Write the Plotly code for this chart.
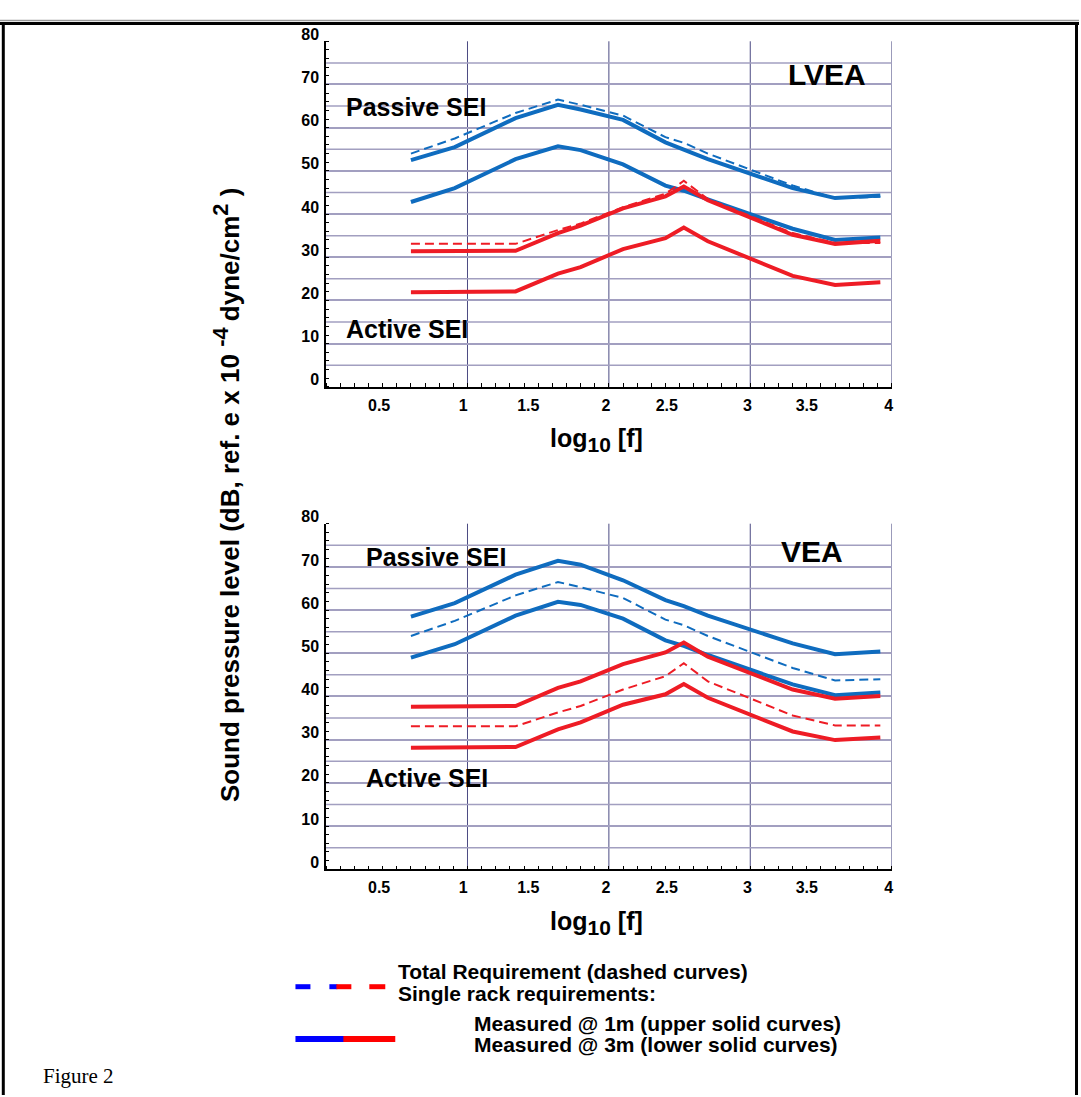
import plotly.graph_objects as go

W, H = 1081, 1097

# ---------------- data ----------------
log_f = [0.60, 0.91, 1.34, 1.64, 1.80, 2.10, 2.40, 2.53, 2.70, 3.30, 3.60, 3.92]

total_passive = [54.0, 57.5, 63.4, 66.5, 65.3, 62.8, 57.8, 56.5, 54.0, 46.6, 43.7, 44.0]
total_active = [33.1, 33.1, 33.1, 36.3, 37.8, 41.6, 44.7, 47.7, 43.5, 35.6, 33.3, 33.3]

lvea_passive_1m = [52.5, 55.5, 62.2, 65.3, 64.2, 61.8, 56.6, 54.9, 52.7, 46.0, 43.7, 44.3]
lvea_passive_3m = [42.8, 46.0, 52.7, 55.7, 54.8, 51.5, 46.6, 45.4, 43.4, 36.6, 34.0, 34.6]
lvea_active_1m = [31.4, 31.4, 31.5, 35.6, 37.3, 41.3, 44.1, 46.4, 43.2, 35.2, 33.1, 33.8]
lvea_active_3m = [21.9, 21.9, 22.1, 26.2, 27.7, 31.9, 34.4, 36.9, 33.7, 25.7, 23.6, 24.2]

vea_passive_1m = [58.5, 61.6, 68.2, 71.4, 70.5, 66.9, 62.3, 60.9, 58.7, 52.3, 49.8, 50.4]
vea_passive_3m = [49.0, 52.1, 58.7, 61.9, 61.2, 58.0, 53.0, 51.7, 49.6, 42.8, 40.3, 40.9]
vea_active_1m = [37.6, 37.6, 37.8, 42.0, 43.5, 47.5, 50.2, 52.5, 49.2, 41.6, 39.5, 40.1]
vea_active_3m = [28.1, 28.1, 28.3, 32.4, 34.0, 38.1, 40.5, 42.9, 39.7, 31.9, 29.9, 30.5]

x_tick_labels = ["0.5", "1", "1.5", "2", "2.5", "3", "3.5", "4"]
x_tick_pos = [0.375, 0.97, 1.43, 1.98, 2.41, 2.98, 3.40, 3.98]
y_tick_vals = list(range(0, 90, 10))
y_half_grid = list(range(5, 80, 10))

# ---------------- style ----------------
BLUE = "#0f6cbf"
RED = "#ee1c25"
FONT = "Liberation Sans, Arial, sans-serif"
HGRID = "#a29fc0"
VGRID = "#4b4a82"


def px(x):
    return x / W


def py(y):
    return 1 - y / H


fig = go.Figure()

panels = [
    ("x", "y", lvea_passive_1m, lvea_passive_3m, lvea_active_1m, lvea_active_3m),
    ("x2", "y2", vea_passive_1m, vea_passive_3m, vea_active_1m, vea_active_3m),
]

for xa, ya, p1, p3, a1, a3 in panels:
    for vals, col in [(p1, BLUE), (p3, BLUE), (a1, RED), (a3, RED)]:
        fig.add_trace(go.Scatter(x=log_f, y=vals, mode="lines", xaxis=xa, yaxis=ya,
                                 line=dict(color=col, width=4), showlegend=False,
                                 hoverinfo="skip"))
    for vals, col in [(total_passive, BLUE), (total_active, RED)]:
        fig.add_trace(go.Scatter(x=log_f, y=vals, mode="lines", xaxis=xa, yaxis=ya,
                                 line=dict(color=col, width=2, dash="9px,5px"),
                                 showlegend=False, hoverinfo="skip"))

x_dom = [px(326.7), px(893.3)]
y_doms = [[py(377.7), py(26.7)], [py(867.7), py(516.7)]]

xaxis_common = dict(
    range=[0, 4], tickmode="array", tickvals=x_tick_pos, ticktext=x_tick_labels,
    ticks="", showgrid=False, zeroline=False, showline=True, linecolor="black",
    linewidth=1.5, tickfont=dict(family=FONT, size=16, color="black", weight="bold"),
    ticklabelstandoff=3,
    minor=dict(dtick=0.1, tick0=0, ticks="inside", ticklen=4, tickcolor="black",
               showgrid=False),
)
yaxis_common = dict(
    range=[0, 80], tickmode="array", tickvals=y_tick_vals,
    ticks="", showgrid=True, gridcolor=HGRID, gridwidth=1.5, zeroline=False,
    showline=True, linecolor="black", linewidth=1.5,
    tickfont=dict(family=FONT, size=16, color="black", weight="bold"),
    ticklabelshift=-7, ticklabelstandoff=2,
    minor=dict(dtick=2, tick0=0, ticks="inside", ticklen=3, tickcolor="black",
               showgrid=False),
)

fig.update_layout(
    xaxis=dict(domain=x_dom, anchor="y", **xaxis_common),
    yaxis=dict(domain=y_doms[0], anchor="x", **yaxis_common),
    xaxis2=dict(domain=x_dom, anchor="y2", **xaxis_common),
    yaxis2=dict(domain=y_doms[1], anchor="x2", **yaxis_common),
)

shapes = []
for xr, yr in [("x", "y"), ("x2", "y2")]:
    for gx in [1, 2, 3, 4]:
        shapes.append(dict(type="line", xref=xr, yref=yr + " domain", x0=gx, x1=gx, y0=0, y1=1,
                           line=dict(color=VGRID, width=1), layer="below"))
    for gy in y_half_grid:
        shapes.append(dict(type="line", xref=xr + " domain", yref=yr, x0=0, x1=1, y0=gy, y1=gy,
                           line=dict(color=HGRID, width=1.5), layer="below"))

# page frame
shapes.append(dict(type="line", xref="paper", yref="paper", x0=0, x1=1, y0=py(5.5), y1=py(5.5),
                   line=dict(color="#9a9a9a", width=1.5)))
shapes.append(dict(type="line", xref="paper", yref="paper", x0=0, x1=1, y0=py(8.7), y1=py(8.7),
                   line=dict(color="black", width=3)))
shapes.append(dict(type="line", xref="paper", yref="paper", x0=px(3.3), x1=px(3.3), y0=0, y1=py(7.5),
                   line=dict(color="black", width=3)))
shapes.append(dict(type="line", xref="paper", yref="paper", x0=px(1078.5), x1=px(1078.5), y0=0, y1=py(7.5),
                   line=dict(color="black", width=3)))

# legend samples
for x0, x1, c in [(296, 311, "#0000ff"), (330, 338, "#0000ff"), (337, 352, "#ff0000"), (370, 386, "#ff0000")]:
    shapes.append(dict(type="line", xref="paper", yref="paper", x0=px(x0), x1=px(x1),
                       y0=py(987), y1=py(987), line=dict(color=c, width=5)))
for x0, x1, c in [(296, 345, "#0000ff"), (344, 396, "#ff0000")]:
    shapes.append(dict(type="line", xref="paper", yref="paper", x0=px(x0), x1=px(x1),
                       y0=py(1040), y1=py(1040), line=dict(color=c, width=6)))

fig.update_layout(shapes=shapes)

ann = []
bold = dict(family=FONT, color="black", weight="bold")
for xr, yr, items in [
    ("x", "y", [("Passive SEI", 0.13, 64.8, "left", 25), ("Active SEI", 0.13, 13.3, "left", 25),
                ("LVEA", 3.54, 72.4, "center", 30)]),
    ("x2", "y2", [("Passive SEI", 0.265, 72.4, "left", 25), ("Active SEI", 0.265, 21.1, "left", 25),
                  ("VEA", 3.44, 73.6, "center", 30)]),
]:
    for t, xx, yy, anc, sz in items:
        ann.append(dict(text=t, x=xx, y=yy, xref=xr, yref=yr, xanchor=anc, yanchor="middle",
                        showarrow=False, font=dict(size=sz, **bold)))

for yy in [432, 922]:
    ann.append(dict(text="log<sub><span style='font-size:21px'>10</span></sub> [f]",
                    x=px(598), y=py(yy), xref="paper", yref="paper",
                    xanchor="center", yanchor="middle", showarrow=False, font=dict(size=25, **bold)))

ann.append(dict(text="Sound pressure level (dB, ref. e x 10 <sup><span style='font-size:22px'>-4 </span></sup>"
                     "dyne/cm<sup><span style='font-size:22px'>2</span></sup> )",
                x=px(227), y=py(487), xref="paper", yref="paper", textangle=-90,
                xanchor="center", yanchor="middle", showarrow=False, font=dict(size=26, **bold)))

for t, x0, y0 in [("Total Requirement (dashed curves)", 397, 972),
                  ("Single rack requirements:", 397, 994),
                  ("Measured @ 1m (upper solid curves)", 473, 1024),
                  ("Measured @ 3m (lower solid curves)", 473, 1046)]:
    ann.append(dict(text=t, x=px(x0), y=py(y0), xref="paper", yref="paper", xanchor="left",
                    yanchor="middle", showarrow=False, font=dict(size=21, **bold)))

ann.append(dict(text="Figure 2", x=px(41), y=py(1078), xref="paper", yref="paper", xanchor="left",
                yanchor="middle", showarrow=False,
                font=dict(family="Liberation Serif, Times New Roman, serif", size=21, color="black")))

fig.update_layout(
    annotations=ann,
    width=W, height=H,
    margin=dict(l=0, r=0, t=0, b=0),
    paper_bgcolor="white", plot_bgcolor="white",
    showlegend=False,
)

fig.write_html(
    "out.html",
    config={"displayModeBar": False},
    post_script=(
        "var d=document.getElementById('{plot_id}');"
        "d.style.position='fixed';d.style.top='0px';d.style.left='0px';"
        "document.body.style.margin='0';document.body.style.overflow='hidden';"
        "document.documentElement.style.overflow='hidden';"
    ),
)
